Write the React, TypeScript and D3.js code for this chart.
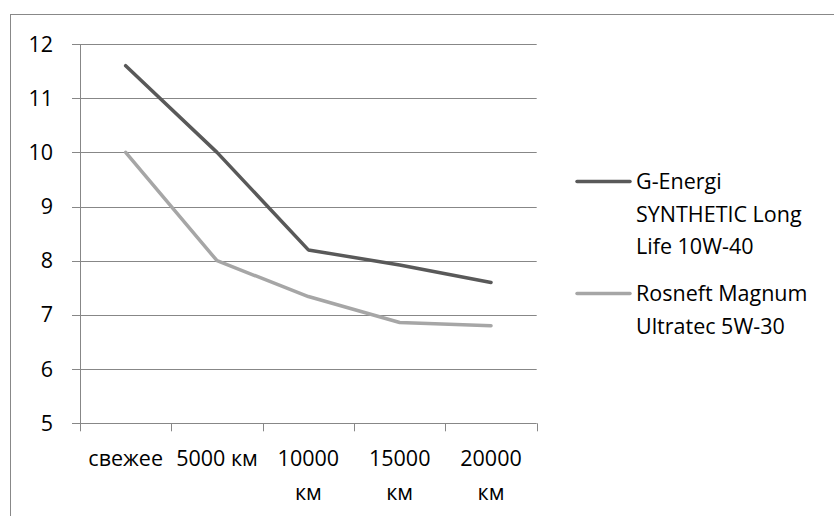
import React from 'react';
import * as d3 from 'd3';

// categories (x axis), each label split into lines as wrapped in the chart
const categories = ['свежее', '5000 км', '10000 км', '15000 км', '20000 км'];
const categoryLines = [['свежее'], ['5000 км'], ['10000', 'км'], ['15000', 'км'], ['20000', 'км']];

const seriesNames = ['G-Energi SYNTHETIC Long Life 10W-40', 'Rosneft Magnum Ultratec 5W-30'];
const legendLines = [['G-Energi', 'SYNTHETIC Long', 'Life 10W-40'], ['Rosneft Magnum', 'Ultratec 5W-30']];
const gEnergi = [11.6, 10, 8.2, 7.92, 7.6];
const rosneft = [10, 8, 7.34, 6.86, 6.8];
const yTicks = [5, 6, 7, 8, 9, 10, 11, 12];

const W = 834;
const H = 516;
const FONT = '"Open Sans", sans-serif';
const FS = 21.5;

const App = () => {
  const x = d3.scaleBand<string>().domain(categories).range([80, 536.7]);
  const y = d3.scaleLinear().domain([5, 12]).range([423.3, 44]);

  const line = d3.line<number>()
    .x((_, i) => (x(categories[i]) as number) + x.bandwidth() / 2)
    .y(d => y(d));

  const series = [
    { name: seriesNames[0], values: gEnergi, color: '#595959', legendY: 181.5 },
    { name: seriesNames[1], values: rosneft, color: '#a6a6a6', legendY: 293.5 }
  ];

  const tickXs = categories.map(c => x(c) as number).concat([x.range()[1]]);

  return (
    <svg width={W} height={H} style={{ position: 'absolute', left: 0, top: 0, background: '#fff' }}>
      {/* outer chart frame (cropped on right and bottom) */}
      <rect x={10.5} y={14.5} width={900} height={600} fill="#fff" stroke="#888" />

      {/* gridlines */}
      {yTicks.map(t => (
        <line key={t} x1={72} x2={536.7} y1={Math.round(y(t)) + 0.5} y2={Math.round(y(t)) + 0.5} stroke="#878787" strokeWidth={1} />
      ))}
      {/* y axis */}
      <line x1={80.5} x2={80.5} y1={y(12)} y2={y(5)} stroke="#878787" />
      {/* x ticks */}
      {tickXs.map((tx, i) => (
        <line key={i} x1={Math.round(tx) + 0.5} x2={Math.round(tx) + 0.5} y1={y(5)} y2={y(5) + 8} stroke="#878787" />
      ))}

      {/* y tick labels */}
      {yTicks.map(t => (
        <text key={t} x={53} y={y(t)} dy="0.35em" textAnchor="end" fontFamily={FONT} fontSize={FS} fill="#000">{t}</text>
      ))}

      {/* x labels */}
      {categories.map((c, i) => (
        <text key={c} textAnchor="middle" fontFamily={FONT} fontSize={FS} fill="#000">
          {categoryLines[i].map((l, j) => (
            <tspan key={j} x={(x(c) as number) + x.bandwidth() / 2} y={458 + j * 34.5} dy="0.35em">{l}</tspan>
          ))}
        </text>
      ))}

      {/* series lines */}
      {series.map(s => (
        <path key={s.name} d={line(s.values) as string} fill="none" stroke={s.color} strokeWidth={3.5} strokeLinejoin="round" strokeLinecap="round" />
      ))}

      {/* legend */}
      {series.map((s, i) => (
        <g key={s.name}>
          <line x1={577} x2={630} y1={s.legendY} y2={s.legendY} stroke={s.color} strokeWidth={3.5} strokeLinecap="round" />
          <text fontFamily={FONT} fontSize={FS} fill="#000">
            {legendLines[i].map((l, j) => (
              <tspan key={j} x={636} y={s.legendY + j * 32.5} dy="0.35em">{l}</tspan>
            ))}
          </text>
        </g>
      ))}
    </svg>
  );
};

export default App;
